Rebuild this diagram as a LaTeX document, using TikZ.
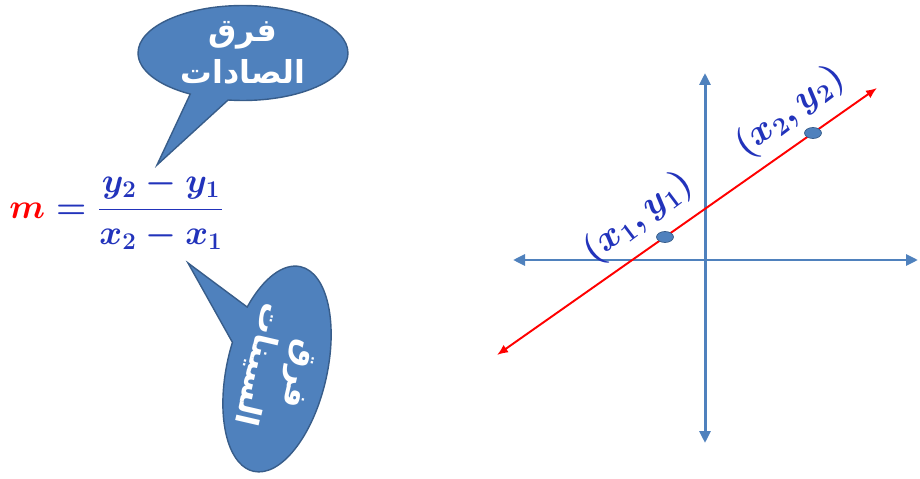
\documentclass[tikz,border=0pt]{standalone}
\usepackage{fontspec}
\usepackage{amsmath}
\usepackage{xcolor}
\usepackage{tikz}
\usetikzlibrary{
  arrows.meta,
  shapes.callouts,
  shapes.geometric
}
\TeXXeTstate=1
\newfontfamily\arabicfont[Script=Arabic]{DejaVu Sans}
\definecolor{ShapeBlue}{HTML}{4F81BD}
\definecolor{DarkBlue}{HTML}{385D8A}
\definecolor{MathBlue}{HTML}{2233BB}
\definecolor{LineRed}{HTML}{FF0000}
\tikzset{
  bubble/.style={
    ellipse callout,
    draw=DarkBlue,
    fill=ShapeBlue,
    thick,
    text=white,
    align=center,
    inner xsep=0pt,
    inner ysep=-3pt,
    callout pointer arc=22,
    font=\arabicfont\bfseries\fontsize{18}{24}\selectfont
  },
  axis/.style={
    {Triangle[length=2.4mm,width=2.2mm]}-{Triangle[length=2.4mm,width=2.2mm]},
    draw=ShapeBlue,
    line width=1.7pt
  },
  graphline/.style={
    {Latex[length=2.2mm,width=1.8mm]}-{Latex[length=2.2mm,width=1.8mm]},
    draw=LineRed,
    line width=1.1pt
  },
  pointmark/.style={
    ellipse,
    draw=DarkBlue,
    fill=ShapeBlue,
    minimum width=0.34cm,
    minimum height=0.22cm,
    inner sep=0pt
  },
  pointlabel/.style={
    text=MathBlue,
    font=\fontsize{21}{25}\selectfont\boldmath,
    rotate=37,
    inner sep=0pt
  }
}

\begin{document}
\begin{tikzpicture}[
  x=0.02cm,
  y=-0.02cm
]
  \useasboundingbox (0,0) rectangle (920,479);

  % slope formula
  \node[
    anchor=west,
    inner sep=0pt,
    font=\fontsize{20}{24}\selectfont
  ] (slope) at (9,210) {
    \scalebox{0.95}{\boldmath$\color{LineRed}m\color{MathBlue}=\dfrac{y_2-y_1}{x_2-x_1}$}
  };

  \coordinate (ytip) at (157,165);
  \coordinate (xtip) at (188,263);

  \node[
    bubble,
    minimum width=4.2cm,
    minimum height=1.9cm,
    callout absolute pointer={(ytip)}
  ] (ydiff) at (243,53) {
    \beginR فرق\endR\\
    \beginR الصادات\endR
  };

  \node[
    bubble,
    rotate=-103,
    minimum width=4.2cm,
    minimum height=2cm,
    callout absolute pointer={(xtip)}
  ] (xdiff) at (277,369) {
    \beginR فرق\endR\\
    \beginR السينات\endR
  };

  % axes
  \coordinate (xleft) at (513,260);
  \coordinate (xright) at (918,260);
  \coordinate (ytop) at (705,73);
  \coordinate (ybottom) at (705,443);

  \draw[axis]
  (xleft) --
  (xright);

  \draw[axis]
  (ybottom) --
  (ytop);

  % line through the two points
  \coordinate (lstart) at (497,355);
  \coordinate (lend) at (877,88);

  \draw[graphline]
  (lstart) --
  (lend);

  \node[pointmark] (p1) at (665,237) {};
  \node[pointmark] (p2) at (813,133) {};

  \node[pointlabel] (p1label) at (638,218) {$(x_1,y_1)$};
  \node[pointlabel] (p2label) at (790,112) {$(x_2,y_2)$};

\end{tikzpicture}
\end{document}
